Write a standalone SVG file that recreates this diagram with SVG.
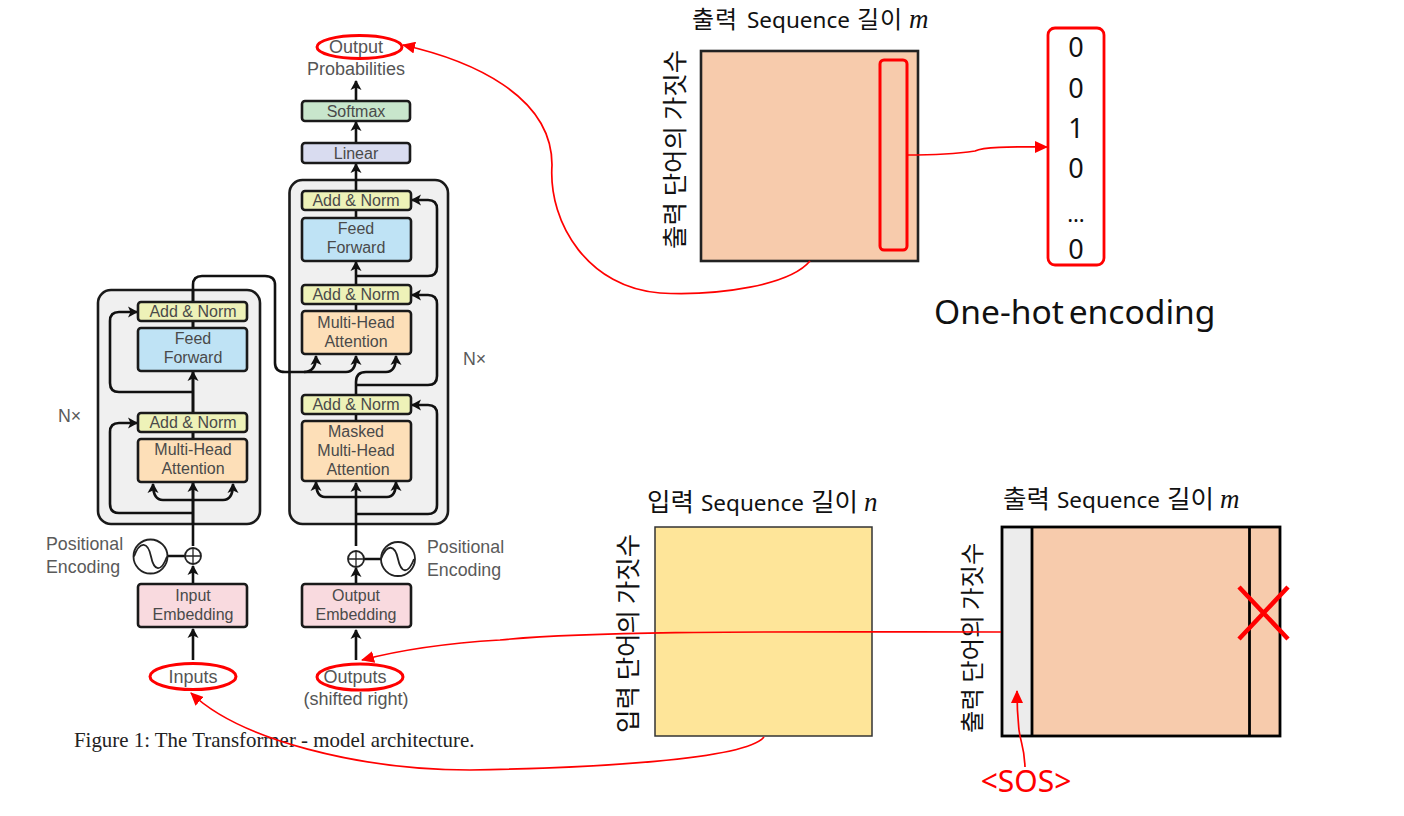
<svg xmlns="http://www.w3.org/2000/svg" width="1404" height="816" viewBox="0 0 1404 816">
<style>
.t{font-family:"Liberation Sans","Noto Sans",sans-serif;font-size:16px;fill:#4a4a4a;text-anchor:middle}
.l{font-size:18px;fill:#555}
.tl{font-family:"Liberation Sans","Noto Sans",sans-serif;font-size:17.800px;fill:#5a5a5a;text-anchor:start}
.k{font-family:"Noto Sans CJK KR","Noto Sans",sans-serif;font-size:25.500px;fill:#111}
.s{font-family:"Noto Sans",sans-serif;font-size:22.500px}
.m{font-family:"Liberation Serif",serif;font-style:italic;font-size:27px}
.b{stroke:#1a1a1a;stroke-width:2.600}
.an{fill:#eef2b8}.ff{fill:#bfe3f5}.mh{fill:#fddfb8}.em{fill:#f9dadf}
.w{fill:none;stroke:#111;stroke-width:2.600;stroke-linejoin:round}
.r{fill:none;stroke:#f00;stroke-width:1.700}
.re{fill:none;stroke:#f00;stroke-width:3}
.grid{stroke:#000;stroke-width:2.800}
.big{fill:#f7cbac;stroke:#222;stroke-width:2.600}
</style>
<defs>
<marker id="a" markerUnits="userSpaceOnUse" markerWidth="10" markerHeight="12" refX="9" refY="6" orient="auto"><path d="M0 0.500L10 6L0 11.500L2.500 6Z" fill="#111"/></marker>
<marker id="ra" markerUnits="userSpaceOnUse" markerWidth="13" markerHeight="12" refX="12" refY="6" orient="auto"><path d="M0 0L13 6L0 12Z" fill="#f00"/></marker>
</defs>
<rect width="1404" height="816" fill="#fff"/>
<g id="encoder-frame"><rect x="98" y="290" width="162" height="234" rx="13" fill="#f0f0f0" class="b"/></g>
<g id="decoder-frame"><rect x="289.500" y="180" width="158.500" height="344" rx="13" fill="#f0f0f0" class="b"/></g>
<g id="connectors">
<path class="w" d="M193 321V328M193 432V439M356 210V218M356 304V311M356 413V421"/>
<path class="w" marker-end="url(#a)" d="M193 583V566"/>
<path class="w" d="M193 546V524V290"/>
<path class="w" marker-end="url(#a)" d="M193 660V629"/>
<path class="w" marker-end="url(#a)" d="M193 524V483"/>
<path class="w" marker-end="url(#a)" d="M193 413V372"/>
<path class="w" marker-end="url(#a)" d="M193 500H163Q153 500 153 484"/>
<path class="w" marker-end="url(#a)" d="M193 500H223Q233 500 233 484"/>
<path class="w" marker-end="url(#a)" d="M193 513H119Q110 513 110 504V432Q110 423 119 423H137"/>
<path class="w" marker-end="url(#a)" d="M193 392H119Q110 392 110 383V321Q110 312 119 312H137"/>
<path class="w" d="M193 302V285Q193 276 202 276H265Q275 276 275 285V363Q275 372 285 372"/>
<path class="w" marker-end="url(#a)" d="M285 372H304Q316 372 316 356"/>
<path class="w" marker-end="url(#a)" d="M304 372H346Q356 372 356 356"/>
<path class="w" marker-end="url(#a)" d="M356 394V382Q356 372 366 372H386Q396 372 396 356"/>
<path class="w" marker-end="url(#a)" d="M356 285V262"/>
<path class="w" marker-end="url(#a)" d="M356 276H428Q437 276 437 267V209Q437 200 428 200H412"/>
<path class="w" marker-end="url(#a)" d="M356 385H428Q437 385 437 376V304Q437 295 428 295H412"/>
<path class="w" marker-end="url(#a)" d="M356 514H428Q437 514 437 505V414Q437 405 428 405H412"/>
<path class="w" marker-end="url(#a)" d="M356 546V483"/>
<path class="w" marker-end="url(#a)" d="M356 497H325Q316 497 316 482"/>
<path class="w" marker-end="url(#a)" d="M356 497H387Q396 497 396 482"/>
<path class="w" marker-end="url(#a)" d="M356 584V568"/>
<path class="w" marker-end="url(#a)" d="M356 660V630"/>
<path class="w" marker-end="url(#a)" d="M356 191V164"/>
<path class="w" marker-end="url(#a)" d="M356 143V122"/>
<path class="w" marker-end="url(#a)" d="M356 101V81"/>
<path class="w" d="M168 556H185M364 559H381"/>
</g>
<g id="add-norm-e2"><rect x="138" y="302" width="109" height="19" rx="3" class="an b"/><text x="193" y="317" class="t">Add &amp; Norm</text></g>
<g id="feed-forward-e"><rect x="138" y="328" width="109" height="43" rx="3" class="ff b"/><text x="193" y="344" class="t">Feed</text><text x="193" y="363" class="t">Forward</text></g>
<g id="add-norm-e1"><rect x="138" y="413" width="109" height="19" rx="3" class="an b"/><text x="193" y="428" class="t">Add &amp; Norm</text></g>
<g id="mha-e"><rect x="138" y="439" width="109" height="43" rx="3" class="mh b"/><text x="193" y="455" class="t">Multi-Head</text><text x="193" y="474" class="t">Attention</text></g>
<g id="add-norm-d3"><rect x="302" y="191" width="109" height="19" rx="3" class="an b"/><text x="356" y="206" class="t">Add &amp; Norm</text></g>
<g id="feed-forward-d"><rect x="302" y="218" width="109" height="43" rx="3" class="ff b"/><text x="356" y="234" class="t">Feed</text><text x="356" y="253" class="t">Forward</text></g>
<g id="add-norm-d2"><rect x="302" y="285" width="109" height="19" rx="3" class="an b"/><text x="356" y="300" class="t">Add &amp; Norm</text></g>
<g id="mha-d"><rect x="302" y="311" width="109" height="43" rx="3" class="mh b"/><text x="356" y="328" class="t">Multi-Head</text><text x="356" y="347" class="t">Attention</text></g>
<g id="add-norm-d1"><rect x="302" y="395" width="109" height="19" rx="3" class="an b"/><text x="356" y="410" class="t">Add &amp; Norm</text></g>
<g id="masked-mha"><rect x="302" y="421" width="109" height="60" rx="3" class="mh b"/><text x="356" y="437" class="t">Masked</text><text x="356" y="456" class="t">Multi-Head</text><text x="358" y="475" class="t">Attention</text></g>
<g id="linear"><rect x="302" y="143" width="108" height="20" rx="3" fill="#d9dcf0" class="b"/><text x="356" y="159" class="t">Linear</text></g>
<g id="softmax"><rect x="302" y="101" width="108" height="20" rx="3" fill="#c8e6cc" class="b"/><text x="356" y="117" class="t">Softmax</text></g>
<g id="output-prob"><text x="356" y="53" class="t l">Output</text><text x="356" y="75" class="t l">Probabilities</text><ellipse cx="359.500" cy="47" rx="42.500" ry="11.500" class="re"/></g>
<g id="input-embedding"><rect x="138" y="584" width="109" height="43" rx="3" class="em b"/><text x="193" y="601" class="t">Input</text><text x="193" y="620" class="t">Embedding</text></g>
<g id="output-embedding"><rect x="302" y="584" width="109" height="43" rx="3" class="em b"/><text x="356" y="601" class="t">Output</text><text x="356" y="620" class="t">Embedding</text></g>
<g id="pos-enc-e"><circle cx="150.500" cy="556.500" r="17" fill="#fff" stroke="#222" stroke-width="1.800"/><path d="M134 556.500C140 540 148 542 151 556.500S161 573 167 556.500" fill="none" stroke="#222" stroke-width="1.800"/><circle cx="193" cy="556" r="8" fill="#fff" stroke="#222" stroke-width="1.800"/><path d="M185 556H201M193 548V564" stroke="#222" stroke-width="1.300"/><text x="46" y="550" class="tl">Positional</text><text x="46" y="573" class="tl">Encoding</text></g>
<g id="pos-enc-d"><circle cx="398" cy="559" r="17" fill="#fff" stroke="#222" stroke-width="1.800"/><path d="M381 559C387 543 395 545 398 559S408 575 414 559" fill="none" stroke="#222" stroke-width="1.800"/><circle cx="356" cy="559" r="8" fill="#fff" stroke="#222" stroke-width="1.800"/><path d="M348 559H364M356 551V567" stroke="#222" stroke-width="1.300"/><text x="427" y="553" class="tl">Positional</text><text x="427" y="576" class="tl">Encoding</text></g>
<g id="nx-labels"><text x="58" y="422" class="tl">N×</text><text x="463" y="365" class="tl">N×</text></g>
<g id="inputs"><text x="193" y="683" class="t l">Inputs</text><ellipse cx="193" cy="676.500" rx="43" ry="13" class="re"/></g>
<g id="outputs"><text x="355" y="683" class="t l">Outputs</text><text x="356" y="705" class="t l">(shifted right)</text><ellipse cx="360" cy="677" rx="43" ry="13" class="re"/></g>
<g id="caption"><text x="74" y="747" font-family="Liberation Serif,serif" font-size="20.900" fill="#222">Figure 1: The Transformer - model architecture.</text></g>

<g id="output-matrix-top"><rect x="701" y="51" width="217" height="210" class="big"/><rect x="880" y="60" width="27" height="190" rx="4" fill="none" stroke="#f00" stroke-width="3"/>
<text y="28" class="k" style="font-size:24px;letter-spacing:1px"><tspan x="692">출력</tspan><tspan x="747" class="s" style="letter-spacing:0">Sequence</tspan><tspan x="857">길이</tspan><tspan x="909" class="m">m</tspan></text>
<text transform="translate(684,249) rotate(-90)" class="k">출력 단어의 가짓수</text></g>
<g id="one-hot"><rect x="1048" y="28" width="56" height="237" rx="7" fill="#fff" stroke="#f00" stroke-width="2.800"/>
<g font-family="Noto Sans,Liberation Sans,sans-serif" font-size="27" fill="#111" text-anchor="middle"><text x="1076" y="57">0</text><text x="1076" y="98">0</text><text x="1076" y="138">1</text><text x="1076" y="178">0</text><text x="1076" y="222" font-size="22">…</text><text x="1076" y="259">0</text></g>
<text x="934" y="324" font-family="Noto Sans,sans-serif" font-size="33.600" word-spacing="-4" fill="#111">One-hot encoding</text></g>

<g id="input-matrix"><rect x="655" y="527" width="217" height="209" fill="#fee599" stroke="#333" stroke-width="1.500"/>
<text y="511" class="k"><tspan x="647">입력</tspan><tspan x="701" class="s">Sequence</tspan><tspan x="811">길이</tspan><tspan x="864" class="m">n</tspan></text>
<text transform="translate(637,733) rotate(-90)" class="k">입력 단어의 가짓수</text></g>

<g id="output-matrix-bottom"><rect x="1002" y="527" width="278" height="209" fill="#f7cbac"/><rect x="1002" y="527" width="30" height="209" fill="#ececec"/>
<rect x="1002" y="527" width="278" height="209" fill="none" class="grid"/><path d="M1032 527V736M1249.500 527V736" class="grid"/>
<text y="508" class="k"><tspan x="1003">출력</tspan><tspan x="1057" class="s">Sequence</tspan><tspan x="1167">길이</tspan><tspan x="1220" class="m">m</tspan></text>
<text transform="translate(981,733) rotate(-90)" class="k" style="font-size:24.400px">출력 단어의 가짓수</text>
<path d="M1239 587L1288 639M1288 587L1239 639" stroke="#f00" stroke-width="4.500"/>
<text x="1026" y="792" font-family="Noto Sans,sans-serif" font-size="30" fill="#f00" text-anchor="middle">&lt;SOS&gt;</text></g>
<g id="red-connectors">
<path class="r" marker-end="url(#ra)" d="M810 261C790 285 720 296 660 293C590 288 548 225 552 165C552 95 470 60 403 45"/>
<path class="r" marker-end="url(#ra)" d="M907 155C930 155 955 154 975 151C985 146 1020 147 1047 147"/>
<path class="r" marker-end="url(#ra)" d="M1001 632C800 632 600 630 500 640C450 643 400 650 362 660"/>
<path class="r" marker-end="url(#ra)" d="M764 737C745 760 590 768 470 770C360 770 240 740 191 693"/>
<path class="r" marker-end="url(#ra)" d="M1025 767C1024 745 1021 745 1019 730C1018 720 1017 712 1017 691"/>
</g>
</svg>
